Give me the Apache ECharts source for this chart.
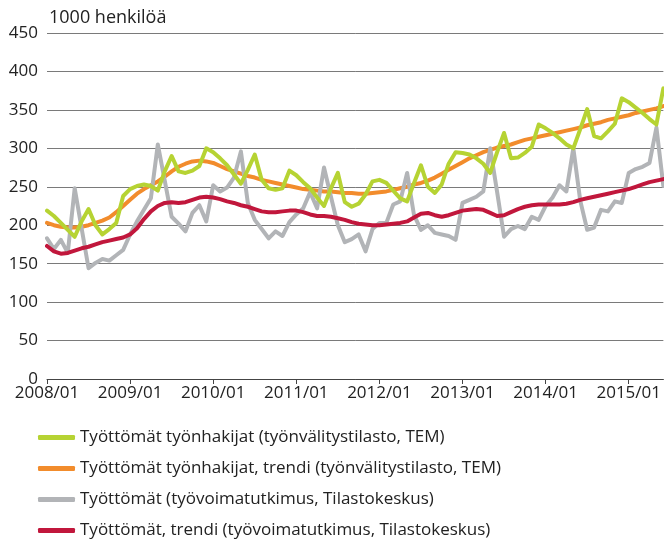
<!DOCTYPE html>
<html>
<head>
<meta charset="utf-8">
<script src="https://cdn.jsdelivr.net/npm/echarts@6/dist/echarts.min.js"></script>
<style>
  html, body { margin: 0; padding: 0; background: #fff; }
  #chart { width: 664px; height: 540px; }
</style>
</head>
<body>
<div id="chart"></div>
<script>
// months 2008/01 .. 2015/06
const years = [2008, 2009, 2010, 2011, 2012, 2013, 2014, 2015]
const months = ['01', '02', '03', '04', '05', '06', '07', '08', '09', '10', '11', '12']
const categories = []
years.forEach(y => months.forEach(m => categories.push(y + '/' + m)))
categories.length = 90

const seriesNames = [
  'Työttömät työnhakijat (työnvälitystilasto, TEM)',
  'Työttömät työnhakijat, trendi (työnvälitystilasto, TEM)',
  'Työttömät (työvoimatutkimus, Tilastokeskus)',
  'Työttömät, trendi (työvoimatutkimus, Tilastokeskus)'
]

// 1000 henkilöä
const temData = [
  219, 212, 203, 194, 185, 205, 221, 200, 188, 195, 203, 238,
  247, 251, 253, 251, 245, 270, 290, 270, 268, 271, 277, 300,
  295, 287, 278, 266, 254, 272, 292, 259, 248, 246, 248, 271,
  265, 256, 248, 236, 225, 248, 268, 230, 224, 228, 240, 257,
  259, 255, 245, 235, 231, 255, 278, 250, 242, 253, 280, 295,
  294, 292, 287, 280, 268, 295, 320, 287, 288, 294, 302, 331,
  326, 320, 313, 305, 300, 325, 351, 316, 313, 322, 332, 365,
  360, 353, 346, 338, 331, 378
]
const temTrend = [
  203, 200, 198, 197, 197, 198, 200, 203, 206, 210, 217, 225,
  233, 241, 247, 252, 257, 263, 270, 276, 280, 283, 284, 283,
  281, 277, 273, 270, 267, 264, 262, 259, 257, 255, 253, 251,
  249, 247, 246, 245, 244, 244, 243, 242, 242, 241, 241, 242,
  243, 244, 246, 248, 250, 253, 255, 258, 262, 267, 272, 277,
  282, 287, 291, 295, 298, 301, 303, 305, 308, 311, 313, 315,
  317, 319, 321, 323, 325, 327, 330, 332, 334, 337, 339, 341,
  343, 346, 348, 350, 352, 355
]
const lfsData = [
  183, 169, 181, 164, 248, 196, 144, 151, 156, 154, 161, 168,
  188, 205, 220, 235, 305, 258, 211, 202, 192, 216, 226, 205,
  252, 244, 249, 262, 296, 229, 207, 195, 183, 192, 186, 204,
  214, 222, 243, 222, 275, 237, 200, 178, 182, 188, 166, 195,
  203, 203, 227, 231, 268, 213, 194, 200, 190, 188, 186, 181,
  229, 233, 237, 244, 300, 243, 185, 195, 199, 195, 211, 207,
  225, 236, 252, 244, 300, 232, 194, 197, 220, 218, 231, 229,
  268, 273, 276, 281, 327, 251
]
const lfsTrend = [
  173, 166, 163, 164, 167, 170, 172, 175, 178, 180, 182, 184,
  188, 196, 208, 218, 225, 229, 230, 229, 230, 233, 236, 237,
  236, 234, 231, 229, 226, 224, 221, 218, 217, 217, 218, 219,
  219, 217, 214, 212, 212, 211, 209, 207, 204, 202, 201, 200,
  200, 201, 202, 203, 205, 210, 215, 216, 213, 211, 213, 216,
  219, 220, 221, 220, 216, 212, 213, 217, 221, 224, 226, 227,
  227, 227, 227, 228, 230, 233, 235, 237, 239, 241, 243, 245,
  247, 250, 253, 256, 258, 260
]

const colors = ['#b6d333', '#f28c2c', '#b2b4b7', '#c1173c']
const fontFamily = '"Open Sans", "Noto Sans", sans-serif'

const chart = echarts.init(document.getElementById('chart'))

function lineSeries(name, data, color) {
  return {
    name: name,
    type: 'line',
    data: data,
    symbol: 'none',
    smooth: false,
    animation: false,
    itemStyle: { color: color },
    lineStyle: { color: color, width: 4, cap: 'round', join: 'round' }
  }
}

const option = {
  backgroundColor: '#fff',
  animation: false,
  textStyle: { fontFamily: fontFamily },
  grid: {
    left: 47,
    right: -1,
    top: 33,
    bottom: 161
  },
  legend: {
    orient: 'vertical',
    left: 38,
    top: 429,
    height: 150,
    padding: 0,
    icon: 'roundRect',
    itemWidth: 37,
    itemHeight: 5,
    itemGap: 14,
    textStyle: {
      fontFamily: fontFamily,
      fontSize: 17,
      color: '#222',
      lineHeight: 16
    },
    data: seriesNames
  },
  xAxis: {
    type: 'category',
    boundaryGap: false,
    data: categories,
    axisLine: { lineStyle: { color: '#444', width: 1 } },
    axisTick: {
      show: true,
      length: 5,
      interval: (idx) => idx % 12 === 0,
      lineStyle: { color: '#444' }
    },
    axisLabel: {
      interval: (idx) => idx % 12 === 0,
      fontSize: 17,
      color: '#222',
      margin: 6,
      fontFamily: fontFamily
    },
    splitLine: { show: false }
  },
  yAxis: {
    type: 'value',
    min: 0,
    max: 450,
    interval: 50,
    name: '1000 henkilöä',
    nameLocation: 'end',
    nameGap: 6,
    nameTextStyle: {
      align: 'left',
      fontSize: 18,
      color: '#222',
      padding: [0, 0, 0, 2],
      fontFamily: fontFamily
    },
    axisLine: { show: false },
    axisTick: { show: false },
    axisLabel: {
      fontSize: 17,
      color: '#222',
      margin: 9,
      fontFamily: fontFamily
    },
    splitLine: { lineStyle: { color: '#7a7a7a', width: 1 } }
  },
  series: [
    lineSeries(seriesNames[1], temTrend, colors[1]),
    lineSeries(seriesNames[2], lfsData, colors[2]),
    lineSeries(seriesNames[3], lfsTrend, colors[3]),
    lineSeries(seriesNames[0], temData, colors[0])
  ]
}

chart.setOption(option)
</script>
</body>
</html>
